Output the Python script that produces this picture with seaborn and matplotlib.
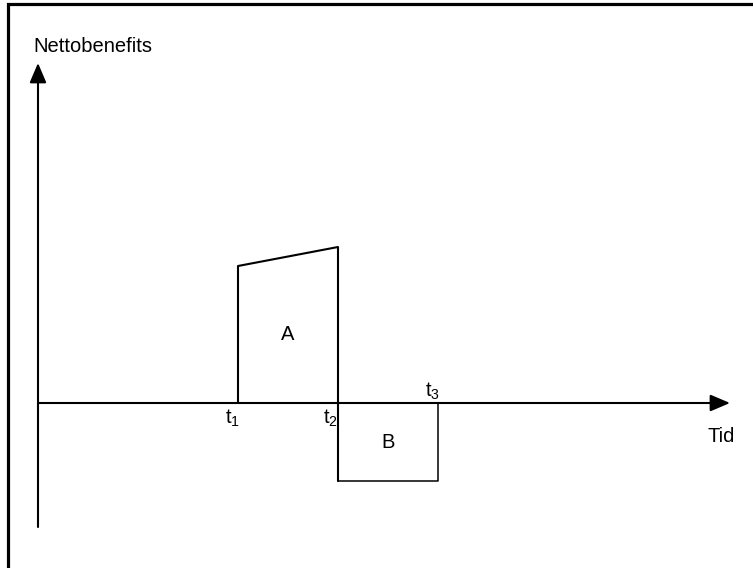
import pandas as pd
import seaborn as sns
import matplotlib.pyplot as plt
from matplotlib.patches import Rectangle

# Time points and net benefit levels (1 unit = 100 px in the reference)
t_points = [2.0, 3.0, 4.0]
t_labels = ["t$_1$", "t$_2$", "t$_3$"]
area_a_x = [2.0, 2.0, 3.0, 3.0]
area_a_y = [0.0, 1.37, 1.56, 0.0]
area_b_x = [3.0, 3.0, 4.0, 4.0]
area_b_y = [0.0, -0.78, -0.78, 0.0]
area_names = ["A", "B"]

sns.set_theme(style="white")
plt.rcParams['font.family'] = ['Liberation Sans', 'DejaVu Sans']
plt.rcParams['text.color'] = 'black'
plt.rcParams['mathtext.fontset'] = 'custom'
plt.rcParams['mathtext.rm'] = 'Liberation Sans'
plt.rcParams['mathtext.it'] = 'Liberation Sans'

fig = plt.figure(figsize=(7.53, 5.68), dpi=100)
ax = fig.add_axes([0, 0, 1, 1])
ax.set_xlim(-0.38, 7.15)
ax.set_ylim(-1.65, 4.03)
ax.axis("off")

# frame around the drawing (only left and top edges fall inside the image)
ax.add_patch(Rectangle((-0.30, -3.0), 9.0, 6.985, fill=False,
                       edgecolor="black", linewidth=2.3, zorder=1))

df_a = pd.DataFrame({"tid": area_a_x, "netto": area_a_y})
df_b = pd.DataFrame({"tid": area_b_x, "netto": area_b_y})
sns.lineplot(data=df_a, x="tid", y="netto", sort=False, color="black",
             linewidth=1.5, ax=ax, estimator=None)
sns.lineplot(data=df_b, x="tid", y="netto", sort=False, color="black",
             linewidth=1.1, ax=ax, estimator=None)
ax.plot([3.0, 3.0], [0.0, -0.78], color="black", linewidth=1.5)

# axes with arrows
arrow = dict(arrowstyle="-|>,head_length=0.4,head_width=0.17", color="black",
             lw=1.5, mutation_scale=30, shrinkA=0, shrinkB=0)
ax.annotate("", xy=(6.92, 0), xytext=(0, 0), arrowprops=arrow)
ax.annotate("", xy=(0, 3.40), xytext=(0, -1.24), arrowprops=arrow)

ax.text(-0.05, 3.57, "Nettobenefits", fontsize=14.5, ha="left", va="center", color="black")
ax.text(6.69, -0.34, "Tid", fontsize=14.5, ha="left", va="center", color="black")

ax.text(2.5, 0.68, area_names[0], fontsize=14.5, ha="center", va="center", color="black")
ax.text(3.5, -0.40, area_names[1], fontsize=14.5, ha="center", va="center", color="black")

label_offsets = [(-0.05, -0.15), (-0.08, -0.15), (-0.06, 0.12)]
for t, lab, (dx, dy) in zip(t_points, t_labels, label_offsets):
    ax.text(t + dx, dy, lab, fontsize=14.5, ha="center", va="center", color="black")

fig.savefig("out.png", dpi=100)
